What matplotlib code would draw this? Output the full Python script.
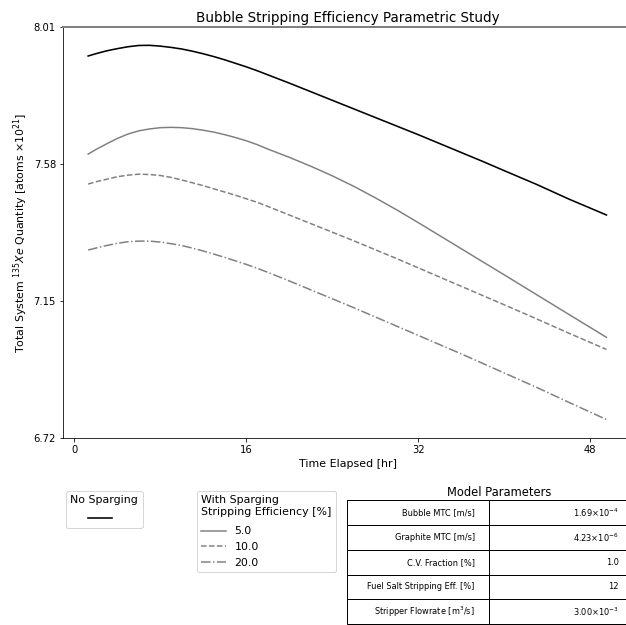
import matplotlib
matplotlib.use("Agg")
import matplotlib.pyplot as plt
from matplotlib.lines import Line2D

# Elapsed time [hr]
hours = [1.3, 2, 3, 4, 5, 6, 7, 8, 9, 10, 11, 12, 13, 14, 15, 16, 17, 18, 20, 22,
         24, 26, 28, 30, 32, 34, 36, 38, 40, 43, 46, 49.5]

# Total system Xe-135 inventory [atoms x 1e21]
no_sparging = [7.919, 7.926, 7.935, 7.942, 7.948, 7.952, 7.9525, 7.950, 7.946, 7.941,
               7.934, 7.926, 7.917, 7.907, 7.896, 7.885, 7.873, 7.860, 7.834, 7.807,
               7.780, 7.753, 7.726, 7.699, 7.672, 7.644, 7.616, 7.588, 7.559, 7.516,
               7.470, 7.420]
eff_5 = [7.611, 7.625, 7.643, 7.660, 7.674, 7.684, 7.690, 7.694, 7.695, 7.694,
         7.691, 7.686, 7.680, 7.672, 7.663, 7.653, 7.641, 7.627, 7.601, 7.573,
         7.543, 7.510, 7.474, 7.436, 7.396, 7.355, 7.314, 7.273, 7.232, 7.170,
         7.108, 7.036]
eff_10 = [7.517, 7.524, 7.532, 7.540, 7.545, 7.548, 7.547, 7.544, 7.538, 7.530,
          7.521, 7.512, 7.502, 7.492, 7.482, 7.471, 7.460, 7.447, 7.420, 7.393,
          7.366, 7.339, 7.311, 7.283, 7.254, 7.225, 7.196, 7.167, 7.138, 7.094,
          7.049, 6.998]
eff_20 = [7.310, 7.316, 7.324, 7.331, 7.336, 7.338, 7.338, 7.335, 7.330, 7.324,
          7.316, 7.307, 7.297, 7.287, 7.276, 7.265, 7.253, 7.240, 7.213, 7.185,
          7.157, 7.129, 7.100, 7.071, 7.042, 7.013, 6.984, 6.954, 6.924, 6.879,
          6.832, 6.778]

efficiencies = ["5.0", "10.0", "20.0"]
sparging_series = [eff_5, eff_10, eff_20]
sparging_styles = ["-", "--", "-."]

x_ticks = [0, 16, 32, 48]
y_ticks = [6.72, 7.15, 7.58, 8.01]

param_names = ["Bubble MTC [m/s]", "Graphite MTC [m/s]", "C.V. Fraction [%]",
               "Fuel Salt Stripping Eff. [%]", "Stripper Flowrate [m$^3$/s]"]
param_values = [r"1.69$\times$10$^{-4}$", r"4.23$\times$10$^{-6}$", "1.0", "12",
                r"3.00$\times$10$^{-3}$"]

W, H, DPI = 626, 625, 72
fig = plt.figure(figsize=(W / DPI, H / DPI), dpi=DPI)

# main axes (extends slightly past the right edge of the canvas)
ax = fig.add_axes([63 / W, 1 - 438 / H, (633 - 63) / W, (438 - 27) / H])
ax.plot(hours, no_sparging, color="black", lw=1.6)
for vals, ls in zip(sparging_series, sparging_styles):
    ax.plot(hours, vals, color="gray", lw=1.5, ls=ls)

ax.set_xlim(-1.04, 51.97)
ax.set_ylim(6.72, 8.01)
ax.set_xticks(x_ticks)
ax.set_yticks(y_ticks)
ax.set_yticklabels([f"{v:.2f}" for v in y_ticks])
ax.tick_params(labelsize=10)
ax.spines["right"].set_visible(False)
ax.spines["top"].set_color("gray")
ax.spines["top"].set_linewidth(2)
ax.set_title("Bubble Stripping Efficiency Parametric Study", fontsize=13.5, pad=5)
ax.set_xlabel("Time Elapsed [hr]", fontsize=11)
ax.set_ylabel(r"Total System $^{135}Xe$ Quantity [atoms $\times 10^{21}$]", fontsize=11)

# legends
h_none = [Line2D([], [], color="black", lw=1.6)]
leg1 = fig.legend(h_none, [""], title="No Sparging", loc="upper left",
                  bbox_to_anchor=(66 / W, 1 - 491 / H), borderaxespad=0,
                  fontsize=11, title_fontsize=11, handlelength=2.2)
leg1._legend_box.sep += 3
h_sp = [Line2D([], [], color="gray", lw=1.5, ls=ls) for ls in sparging_styles]
leg2 = fig.legend(h_sp, efficiencies, title="With Sparging\nStripping Efficiency [%]",
                  loc="upper left", bbox_to_anchor=(197 / W, 1 - 491 / H),
                  borderaxespad=0, fontsize=11, title_fontsize=11, handlelength=2.2)
leg2._legend_box.align = "left"
leg2._legend_box.sep += 4

# parameter table
tax = fig.add_axes([347 / W, 1 - 624 / H, (633 - 347) / W, (624 - 500.5) / H])
tax.axis("off")
tbl = tax.table(cellText=[[n, v] for n, v in zip(param_names, param_values)],
                cellLoc="right", colWidths=[142 / 286, 144 / 286], bbox=[0, 0, 1, 1])
tbl.auto_set_font_size(False)
tbl.set_fontsize(8.2)
fig.text(499 / W, 1 - 493 / H, "Model Parameters", ha="center", va="center", fontsize=11.5)

fig.savefig("out.png", dpi=DPI)
